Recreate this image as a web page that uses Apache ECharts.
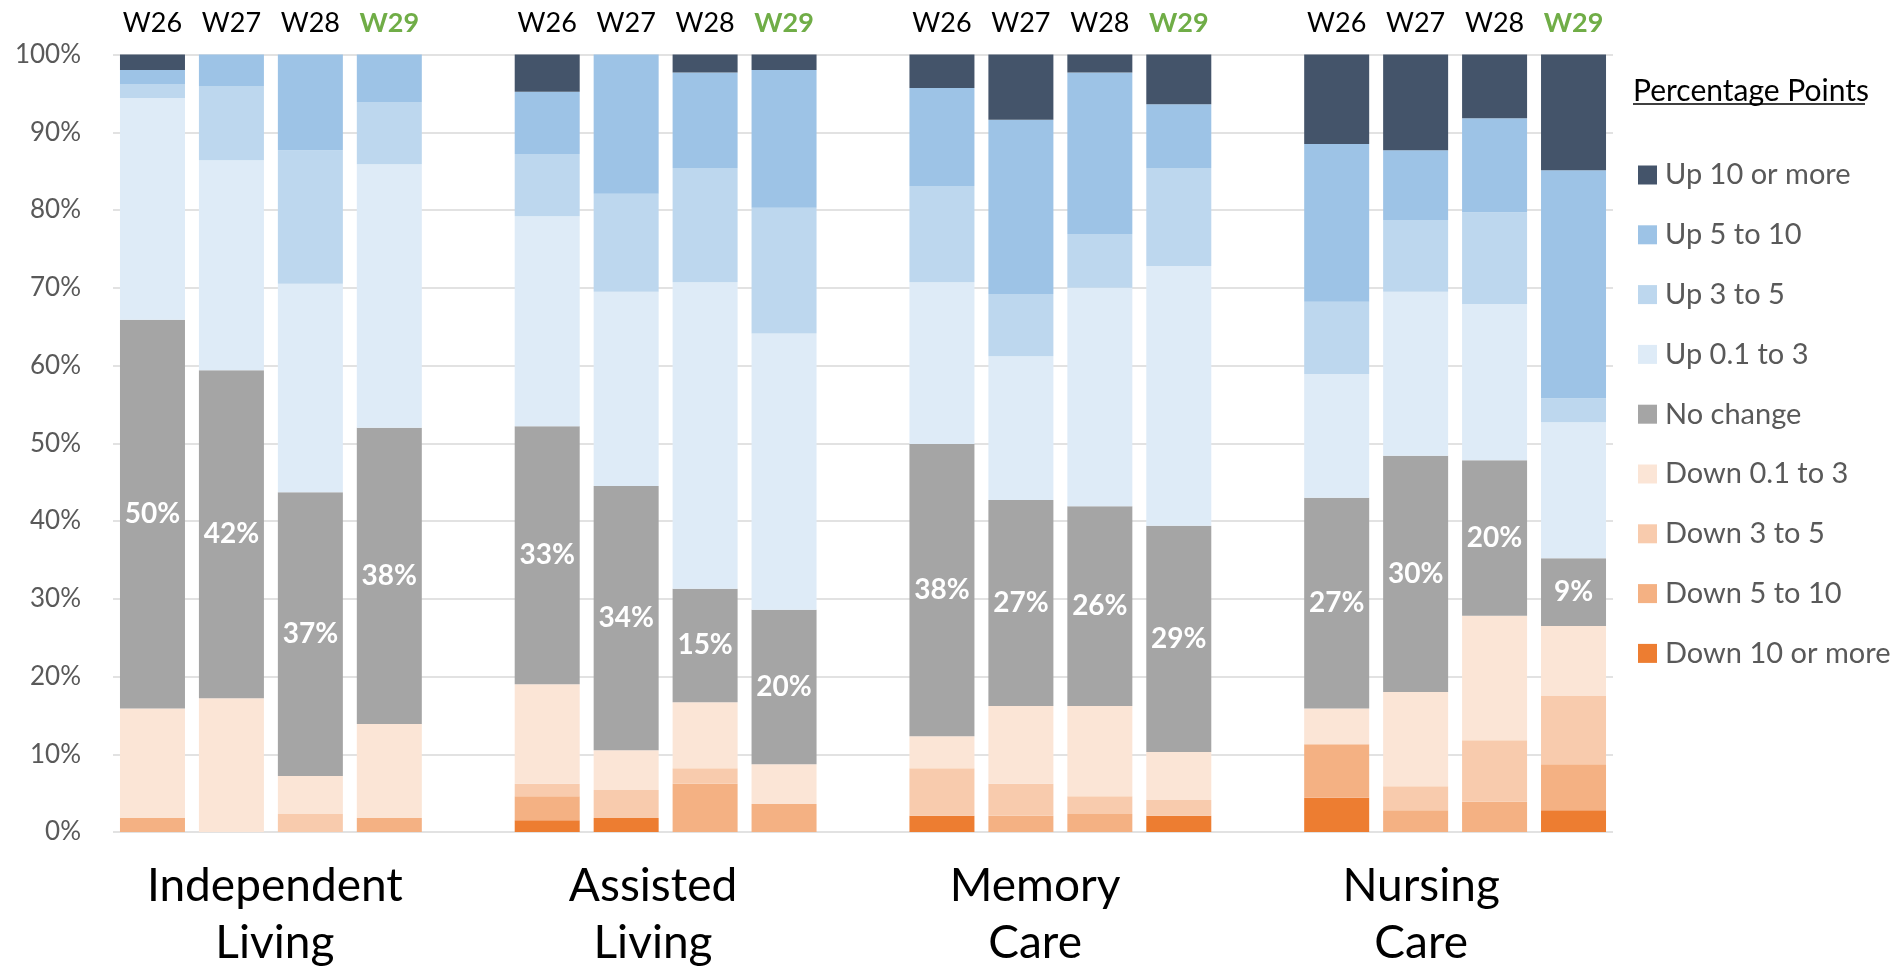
<!DOCTYPE html>
<html>
<head>
<meta charset="utf-8">
<script src="https://cdn.jsdelivr.net/npm/echarts@6/dist/echarts.min.js"></script>
<style>
html,body{margin:0;padding:0;background:#fff;}
#chart{width:1895px;height:968px;}
</style>
</head>
<body>
<div id="chart"></div>
<script>
// slots on the category axis; '' = empty spacer between facilities
var slots = ['W26','W27','W28','W29','','W26','W27','W28','W29','','W26','W27','W28','W29','','W26','W27','W28','W29'];
var groups = ['Independent\nLiving','Assisted\nLiving','Memory\nCare','Nursing\nCare'];
var groupLabelAt = [2.05, 6.84, 11.68, 16.57];

// bar order: IL W26-W29, AL W26-W29, MC W26-W29, NC W26-W29 (share of communities, %)
var up10    = [2.0, 0, 0, 0,      4.8, 0, 2.3, 2.0,     4.3, 8.4, 2.3, 6.4,     11.5, 12.3, 8.2, 14.9];
var up5to10 = [1.8, 4.1, 12.3, 6.1,  8.0, 17.9, 12.3, 17.7,  12.6, 22.4, 20.8, 8.2,  20.3, 9.0, 12.1, 29.3];
var up3to5  = [1.8, 9.5, 17.2, 8.0,  8.0, 12.6, 14.7, 16.2,  12.4, 8.0, 6.9, 12.6,   9.3, 9.2, 11.8, 3.1];
var up01to3 = [28.5, 27.0, 26.8, 33.9, 27.0, 25.0, 39.4, 35.5, 20.8, 18.5, 28.1, 33.4, 15.9, 21.1, 20.1, 17.5];
var noChange= [50.0, 42.2, 36.5, 38.1, 33.2, 34.0, 14.6, 19.9, 37.6, 26.5, 25.7, 29.1, 27.1, 30.4, 20.0, 8.7];
var dn01to3 = [14.1, 17.2, 4.9, 12.1, 12.8, 5.1, 8.5, 5.1,   4.1, 10.0, 11.6, 6.2,   4.6, 12.1, 16.0, 9.0];
var dn3to5  = [0, 0, 2.3, 0,      1.6, 3.6, 2.0, 0,      6.1, 4.1, 2.3, 2.0,     0, 3.1, 7.9, 8.8];
var dn5to10 = [1.8, 0, 0, 1.8,    3.1, 0, 6.2, 3.6,      0, 2.1, 2.3, 0,         6.9, 2.8, 3.9, 5.9];
var dn10    = [0, 0, 0, 0,        1.5, 1.8, 0, 0,        2.1, 0, 0, 2.1,         4.4, 0, 0, 2.8];

var yTicks = [0, 10, 20, 30, 40, 50, 60, 70, 80, 90, 100];

var FONT = 'Lato';

// put the 16 bar values onto the 19 slots
function withGaps(arr) {
    var out = [], k = 0;
    for (var i = 0; i < slots.length; i++) {
        if (slots[i] === '') out.push('-');
        else out.push(arr[k++]);
    }
    return out;
}

var seriesDefs = [
    {name: 'Down 10 or more', data: dn10,     color: '#ED7D31'},
    {name: 'Down 5 to 10',    data: dn5to10,  color: '#F4B183'},
    {name: 'Down 3 to 5',     data: dn3to5,   color: '#F8CBAD'},
    {name: 'Down 0.1 to 3',   data: dn01to3,  color: '#FBE5D6'},
    {name: 'No change',       data: noChange, color: '#A5A5A5'},
    {name: 'Up 0.1 to 3',     data: up01to3,  color: '#DEEBF7'},
    {name: 'Up 3 to 5',       data: up3to5,   color: '#BDD7EE'},
    {name: 'Up 5 to 10',      data: up5to10,  color: '#9DC3E6'},
    {name: 'Up 10 or more',   data: up10,     color: '#44546A'}
];

var series = seriesDefs.map(function (s) {
    var o = {
        name: s.name,
        type: 'bar',
        stack: 'total',
        barWidth: 65,
        xAxisIndex: 0,
        data: withGaps(s.data),
        itemStyle: {color: s.color},
        emphasis: {disabled: true}
    };
    if (s.name === 'No change') {
        o.label = {
            show: true,
            position: 'inside',
            color: '#fff',
            fontFamily: FONT,
            fontWeight: 'bold',
            fontSize: 28,
            formatter: function (p) { return Math.round(p.value) + '%'; }
        };
    }
    return o;
});

var chart = echarts.init(document.getElementById('chart'));
var option = {
    animation: false,
    title: {
        text: 'Percentage Points',
        left: 1633,
        top: 76,
        padding: 0,
        textStyle: {fontFamily: FONT, fontSize: 30, lineHeight: 30, fontWeight: 'normal', color: '#000'}
    },
    graphic: [{
        type: 'line',
        shape: {x1: 1633, y1: 104, x2: 1865, y2: 104},
        style: {stroke: '#000', lineWidth: 1.5}
    }],
    legend: {
        orient: 'vertical',
        left: 1633,
        top: 155,
        itemWidth: 19,
        itemHeight: 19,
        itemGap: 29.8,
        icon: 'rect',
        data: seriesDefs.map(function (s) { return s.name; }).reverse(),
        textStyle: {fontFamily: FONT, fontSize: 29, color: '#595959', lineHeight: 30, padding: [0, 0, 0, 3]}
    },
    grid: {
        left: 113,
        right: 282,
        top: 54.5,
        bottom: 136,
        containLabel: false,
        outerBoundsMode: 'none'
    },
    xAxis: [{
        type: 'category',
        position: 'top',
        data: slots,
        axisLine: {show: false},
        axisTick: {show: false},
        axisLabel: {
            interval: 0,
            margin: 18,
            fontFamily: FONT,
            fontSize: 27,
            color: '#000',
            formatter: function (v) { return v === 'W29' ? '{g|' + v + '}' : v; },
            rich: {g: {color: '#70AD47', fontWeight: 'bold', fontFamily: FONT, fontSize: 27}}
        }
    }, {
        type: 'value',
        position: 'bottom',
        min: 0,
        max: slots.length,
        axisLine: {show: false},
        axisTick: {show: false},
        splitLine: {show: false},
        axisLabel: {
            customValues: groupLabelAt,
            margin: 26,
            fontFamily: FONT,
            fontSize: 46,
            lineHeight: 57,
            color: '#000',
            formatter: function (v) {
                var i = groupLabelAt.indexOf(v);
                return i >= 0 ? groups[i] : '';
            }
        }
    }],
    yAxis: {
        type: 'value',
        min: 0,
        max: 100,
        interval: 10,
        axisLine: {show: false},
        axisTick: {show: false},
        splitLine: {lineStyle: {color: '#D9D9D9', width: 1.5}},
        axisLabel: {
            margin: 32,
            fontFamily: FONT,
            fontSize: 26,
            color: '#595959',
            customValues: yTicks,
            formatter: '{value}%'
        }
    },
    series: series
};
chart.setOption(option);
</script>
</body>
</html>
